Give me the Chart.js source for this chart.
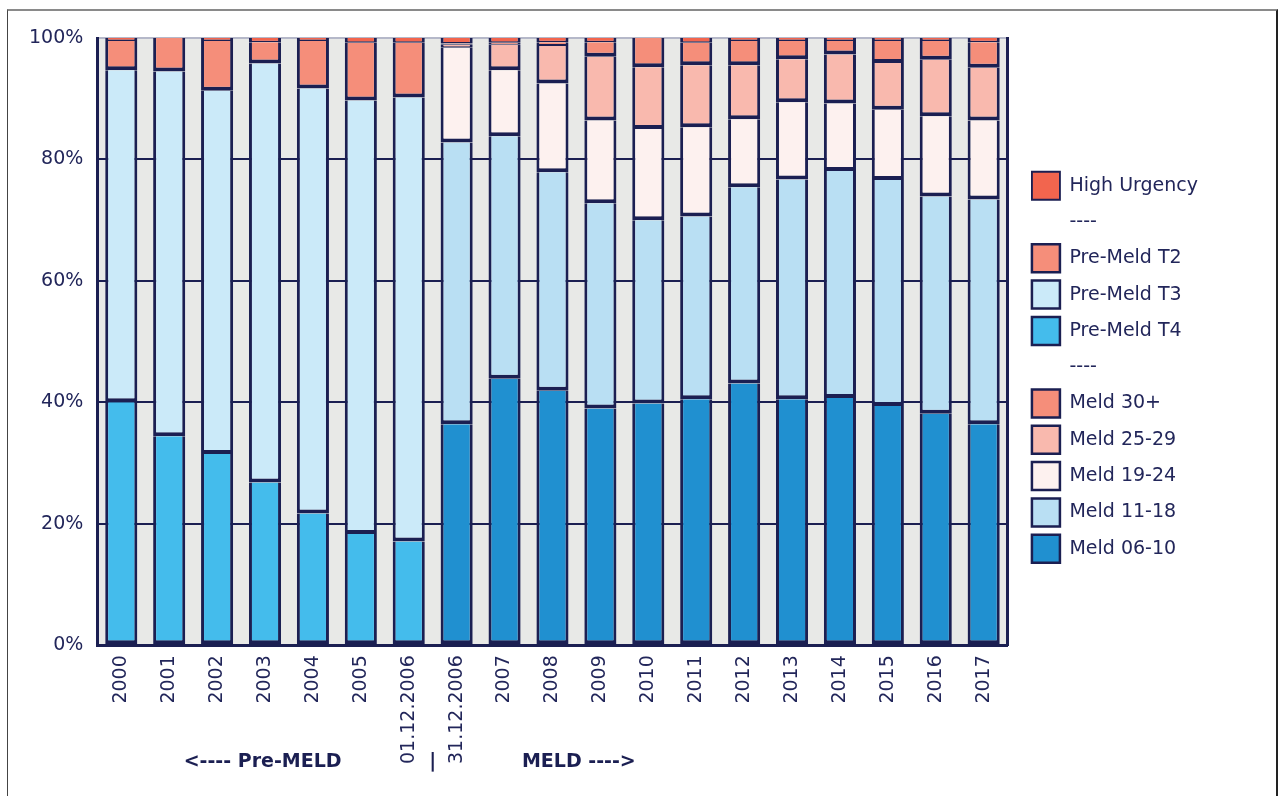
<!DOCTYPE html>
<html>
<head>
<meta charset="utf-8">
<title>Pre-MELD / MELD</title>
<script src="https://cdn.jsdelivr.net/npm/chart.js@4.4.1/dist/chart.umd.min.js"></script>
<style>
    html, body { margin: 0; padding: 0; background: #fff; }
    #wrap { position: relative; width: 1280px; height: 796px; overflow: hidden; }
    #frame {
        position: absolute; left: 7px; top: 9px; width: 1268px; height: 800px;
        border-top: 2px solid #8a8a8a; border-left: 1px solid #444; border-right: 2px solid #222;
    }
    #chart { position: absolute; left: 0; top: 0; }
</style>
</head>
<body>
<div id="wrap">
    <div id="frame"></div>
    <canvas id="chart" width="1280" height="796"></canvas>
</div>
<script>
const categories = [
    "2000", "2001", "2002", "2003", "2004", "2005", "01.12.2006",
    "31.12.2006", "2007", "2008", "2009", "2010", "2011",
    "2012", "2013", "2014", "2015", "2016", "2017"
];
const yTicks = [0, 20, 40, 60, 80, 100];

// percentages, pre-MELD era (first 7 columns)
const preT4 = [40.0, 34.4, 31.5, 26.8, 21.7, 18.3, 17.1];
const preT3 = [54.7, 60.1, 59.8, 69.0, 70.0, 71.4, 73.1];
const preT2 = [4.8, 5.5, 8.2, 3.5, 7.8, 9.5, 9.0];
const urgentPre = [0.5, 0, 0.5, 0.7, 0.5, 0.8, 0.8];

// percentages, MELD era (last 12 columns)
const meld0610 = [36.4, 43.9, 41.9, 39.0, 39.8, 40.5, 43.1, 40.5, 40.7, 39.4, 38.1, 36.4];
const meld1118 = [46.4, 39.9, 36.0, 33.8, 30.2, 30.1, 32.3, 36.2, 37.4, 37.2, 35.8, 37.0];
const meld1924 = [15.6, 10.9, 14.6, 13.6, 15.0, 14.7, 11.2, 12.7, 11.1, 11.6, 13.2, 13.0];
const meld2529 = [0.5, 4.2, 6.2, 10.5, 10.2, 10.2, 8.9, 7.1, 8.1, 7.7, 9.3, 8.7];
const meld30 = [0.2, 0.3, 0.6, 2.4, 4.8, 3.7, 4.0, 3.0, 2.2, 3.6, 3.1, 4.2];
const urgentMeld = [0.9, 0.8, 0.7, 0.7, 0, 0.8, 0.5, 0.5, 0.5, 0.5, 0.5, 0.7];

const navy = "#1b1f52";
const textColor = "#22265a";
const fontFamily = "'DejaVu Sans', Verdana, sans-serif";

const preCount = preT4.length;
const blanks = n => new Array(n).fill(null);
const preOnly = arr => arr.concat(blanks(categories.length - preCount));
const meldOnly = arr => blanks(preCount).concat(arr);

function series(label, data, color, extra) {
    return Object.assign({
        label: label,
        data: data,
        backgroundColor: color,
        borderColor: navy,
        borderWidth: { left: 3, right: 3, bottom: 4, top: 0 },
        borderSkipped: "end",
        stack: "s"
    }, extra || {});
}

const spacer = () => series("----", blanks(categories.length), "rgba(0,0,0,0)", { borderWidth: 0 });

// bottom-to-top stacking order
const datasets = [
    series("Meld 06-10", meldOnly(meld0610), "#2090d0"),
    series("Meld 11-18", meldOnly(meld1118), "#b9dff3"),
    series("Meld 19-24", meldOnly(meld1924), "#fdf1ef"),
    series("Meld 25-29", meldOnly(meld2529), "#f9b9ae"),
    series("Meld 30+", meldOnly(meld30), "#f58e7a"),
    spacer(),
    series("Pre-Meld T4", preOnly(preT4), "#44bcec"),
    series("Pre-Meld T3", preOnly(preT3), "#cbeaf9"),
    series("Pre-Meld T2", preOnly(preT2), "#f58e7a"),
    spacer(),
    series("High Urgency", urgentPre.concat(urgentMeld), "#f2654e",
        { borderWidth: { left: 3, right: 3, bottom: 1.5, top: 0 } })
];

// grey plot background + era captions under the axis
const decorations = {
    id: "decorations",
    beforeDraw(chart) {
        const { ctx, chartArea: a } = chart;
        ctx.save();
        ctx.fillStyle = "#e8e9e7";
        ctx.fillRect(a.left, a.top, a.right - a.left, a.bottom - a.top);
        ctx.restore();
    },
    afterDraw(chart) {
        const { ctx } = chart;
        const x = chart.scales.x;
        const y = 762;
        ctx.save();
        ctx.fillStyle = navy;
        ctx.font = "bold 19px " + fontFamily;
        ctx.textAlign = "center";
        ctx.textBaseline = "middle";
        ctx.fillText("<---- Pre-MELD", x.getPixelForValue(2.95), y);
        ctx.fillText("|", (x.getPixelForValue(6) + x.getPixelForValue(7)) / 2, y);
        ctx.fillText("MELD ---->", x.getPixelForValue(9.55), y);
        ctx.restore();
    }
};

document.addEventListener("DOMContentLoaded", () => {
    const ctx = document.getElementById("chart").getContext("2d");

    new Chart(ctx, {
        type: "bar",
        data: { labels: categories, datasets: datasets },
        options: {
            responsive: false,
            animation: false,
            layout: { padding: { top: 38, left: 15, right: 72, bottom: 30 } },
            datasets: {
                bar: { categoryPercentage: 1, barPercentage: 0.67 }
            },
            plugins: {
                tooltip: { enabled: false },
                legend: {
                    position: "right",
                    align: "start",
                    reverse: true,
                    title: { display: true, text: " ", font: { size: 12 }, padding: { top: 111, bottom: 0 } },
                    labels: {
                        boxWidth: 28,
                        boxHeight: 28,
                        padding: 8.3,
                        color: textColor,
                        font: { family: fontFamily, size: 19 }
                    }
                }
            },
            scales: {
                x: {
                    stacked: true,
                    grid: { display: false },
                    border: { display: true, color: navy, width: 3 },
                    ticks: {
                        autoSkip: false,
                        maxRotation: 90,
                        minRotation: 90,
                        padding: 2,
                        color: textColor,
                        font: { family: fontFamily, size: 19 }
                    }
                },
                y: {
                    stacked: true,
                    min: 0,
                    max: 100,
                    afterBuildTicks: scale => {
                        scale.ticks = yTicks.map(v => ({ value: v }));
                    },
                    grid: {
                        drawTicks: false,
                        lineWidth: 2,
                        color: c => (c.tick && c.tick.value === 100 ? "#b5b8c9" : navy)
                    },
                    border: { display: true, color: navy, width: 3 },
                    ticks: {
                        padding: 14,
                        color: textColor,
                        font: { family: fontFamily, size: 19 },
                        callback: v => v + "%"
                    }
                },
                right: {
                    position: "right",
                    min: 0,
                    max: 100,
                    grid: { display: false, drawTicks: false },
                    border: { display: true, color: navy, width: 3 },
                    ticks: { display: false },
                    afterFit: scale => { scale.width = 16; }
                }
            }
        },
        plugins: [decorations]
    });
});
</script>
</body>
</html>
